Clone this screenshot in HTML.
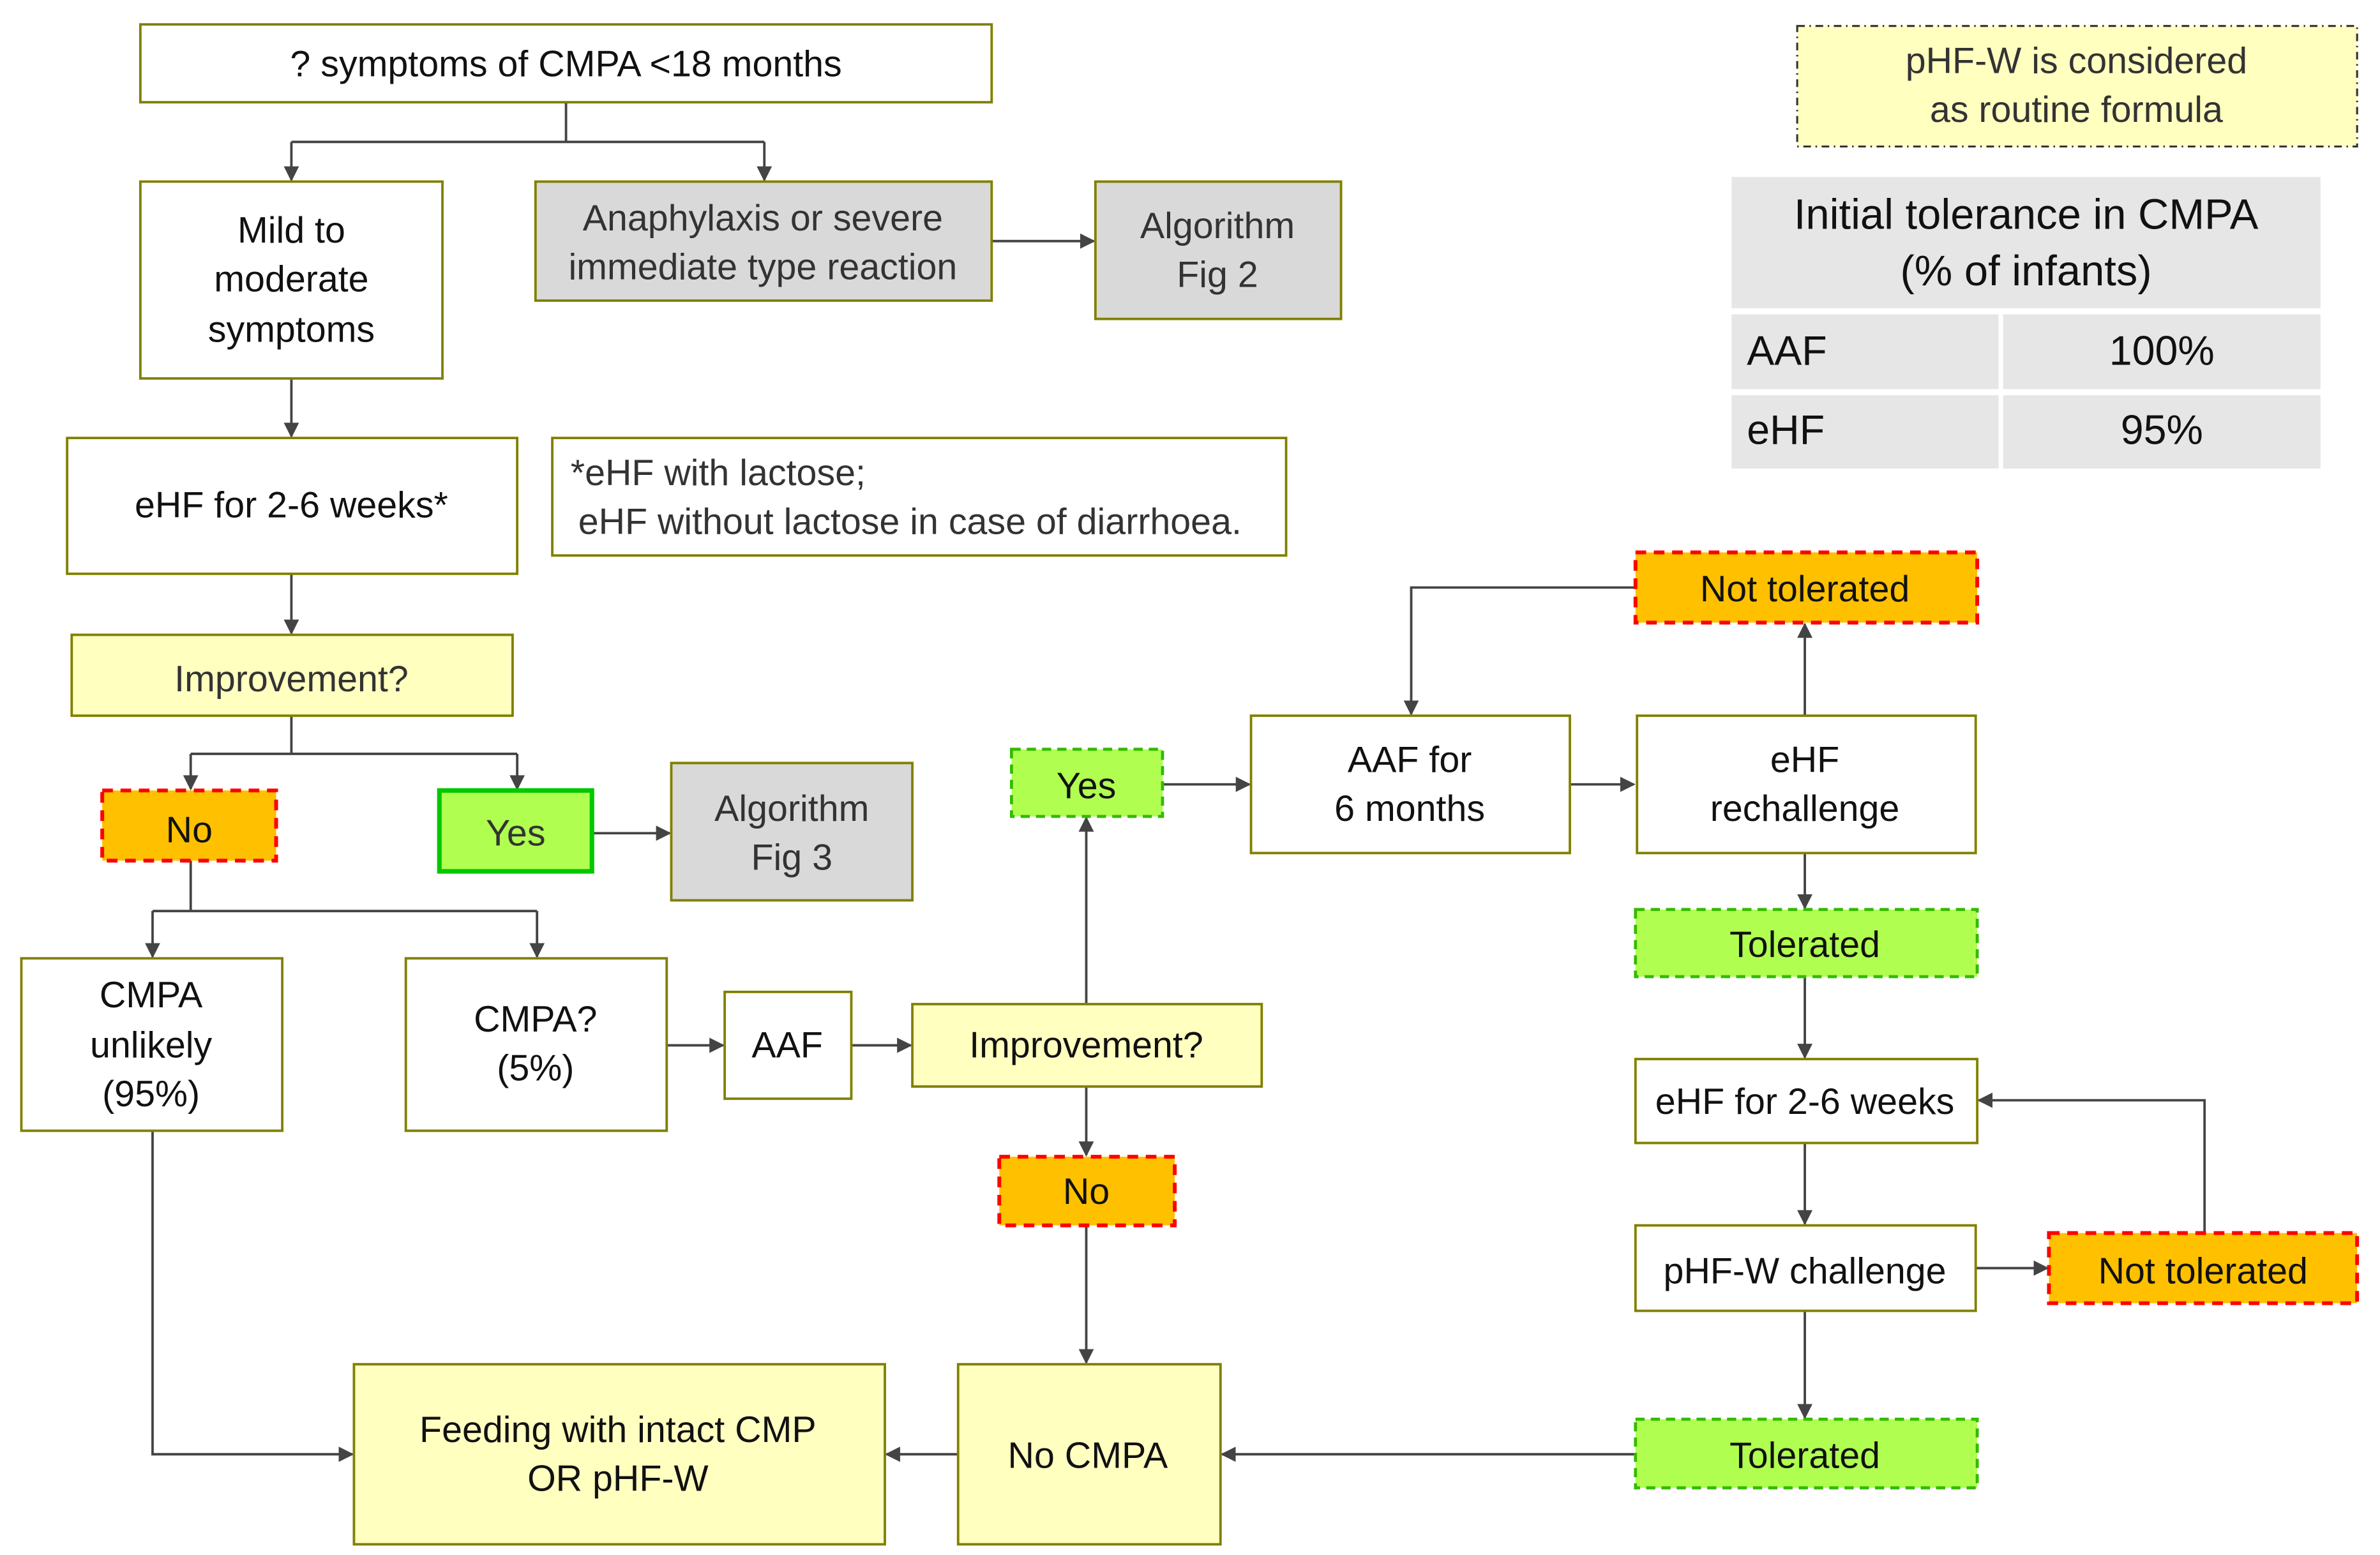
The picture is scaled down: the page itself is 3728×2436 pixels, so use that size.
<!DOCTYPE html>
<html><head><meta charset="utf-8"><style>html,body{margin:0;padding:0;background:#fff}svg{display:block}</style></head>
<body>
<svg xmlns="http://www.w3.org/2000/svg" width="3728" height="2436" viewBox="0 0 1560 1019" preserveAspectRatio="none" font-family="'Liberation Sans', sans-serif" font-size="24" fill="#111">
<defs>
<marker id="a" markerWidth="10" markerHeight="10" refX="9" refY="5" orient="auto" markerUnits="userSpaceOnUse"><path d="M0,0 L10,5 L0,10 Z" fill="#444"/></marker>
</defs>
<g stroke="#444" stroke-width="1.6" fill="none">
<path d="M371,67 V93 M191,93 H501"/>
<path d="M191,93 V118" marker-end="url(#a)"/>
<path d="M501,93 V118" marker-end="url(#a)"/>
<path d="M650,158 H717" marker-end="url(#a)"/>
<path d="M191,248 V286" marker-end="url(#a)"/>
<path d="M191,376 V415" marker-end="url(#a)"/>
<path d="M191,469 V494 M125,494 H339"/>
<path d="M125,494 V517" marker-end="url(#a)"/>
<path d="M339,494 V517" marker-end="url(#a)"/>
<path d="M388,546 H439" marker-end="url(#a)"/>
<path d="M125,564 V597 M100,597 H352"/>
<path d="M100,597 V627" marker-end="url(#a)"/>
<path d="M352,597 V627" marker-end="url(#a)"/>
<path d="M437,685 H474" marker-end="url(#a)"/>
<path d="M558,685 H597" marker-end="url(#a)"/>
<path d="M712,658 V536" marker-end="url(#a)"/>
<path d="M762,514 H819" marker-end="url(#a)"/>
<path d="M1029,514 H1071" marker-end="url(#a)"/>
<path d="M1183,469 V409" marker-end="url(#a)"/>
<path d="M1072,385 H925 V468" marker-end="url(#a)"/>
<path d="M1183,559 V595" marker-end="url(#a)"/>
<path d="M1183,640 V693" marker-end="url(#a)"/>
<path d="M1183,749 V802" marker-end="url(#a)"/>
<path d="M1295,831 H1342" marker-end="url(#a)"/>
<path d="M1445,808 V721 H1297" marker-end="url(#a)"/>
<path d="M1183,859 V929" marker-end="url(#a)"/>
<path d="M1072,953 H801" marker-end="url(#a)"/>
<path d="M712,712 V757" marker-end="url(#a)"/>
<path d="M712,803 V893" marker-end="url(#a)"/>
<path d="M628,953 H581" marker-end="url(#a)"/>
<path d="M100,741 V953 H231" marker-end="url(#a)"/>
</g>
<g stroke="#808000" stroke-width="1.6">
<rect x="92" y="16" width="558" height="51" fill="#fff"/>
<rect x="92" y="119" width="198" height="129" fill="#fff"/>
<rect x="351" y="119" width="299" height="78" fill="#d9d9d9"/>
<rect x="718" y="119" width="161" height="90" fill="#d9d9d9"/>
<rect x="44" y="287" width="295" height="89" fill="#fff"/>
<rect x="362" y="287" width="481" height="77" fill="#fff"/>
<rect x="47" y="416" width="289" height="53" fill="#ffffc0"/>
<rect x="440" y="500" width="158" height="90" fill="#d9d9d9"/>
<rect x="14" y="628" width="171" height="113" fill="#fff"/>
<rect x="266" y="628" width="171" height="113" fill="#fff"/>
<rect x="475" y="650" width="83" height="70" fill="#fff"/>
<rect x="598" y="658" width="229" height="54" fill="#ffffc0"/>
<rect x="820" y="469" width="209" height="90" fill="#fff"/>
<rect x="1073" y="469" width="222" height="90" fill="#fff"/>
<rect x="1072" y="694" width="224" height="55" fill="#fff"/>
<rect x="1072" y="803" width="223" height="56" fill="#fff"/>
<rect x="628" y="894" width="172" height="118" fill="#ffffc0"/>
<rect x="232" y="894" width="348" height="118" fill="#ffffc0"/>
</g>
<g stroke="#ff0000" stroke-width="2.5" stroke-dasharray="7,5" fill="#ffc000">
<rect x="67" y="518" width="114" height="46"/>
<rect x="655" y="758" width="115" height="45"/>
<rect x="1072" y="362" width="224" height="46"/>
<rect x="1343" y="808" width="202" height="46"/>
</g>
<rect x="288" y="518" width="100" height="53" fill="#b0ff50" stroke="#00c800" stroke-width="3"/>
<g stroke="#33bb00" stroke-width="2" stroke-dasharray="6,4" fill="#b0ff50">
<rect x="663" y="491" width="99" height="44"/>
<rect x="1072" y="596" width="224" height="44"/>
<rect x="1072" y="930" width="224" height="45"/>
</g>
<rect x="1178" y="17" width="367" height="79" fill="#ffffc0" stroke="#333" stroke-width="1.3" stroke-dasharray="5,3,1,3"/>
<g fill="#e6e6e6">
<rect x="1135" y="116" width="386" height="86"/>
<rect x="1135" y="206" width="175" height="49"/>
<rect x="1313" y="206" width="208" height="49"/>
<rect x="1135" y="259" width="175" height="48"/>
<rect x="1313" y="259" width="208" height="48"/>
</g>
<g text-anchor="middle">
<text x="371" y="50">? symptoms of CMPA &lt;18 months</text>
<text x="191" y="159">Mild to</text><text x="191" y="191">moderate</text><text x="191" y="224">symptoms</text>
<text x="500" y="151" fill="#333">Anaphylaxis or severe</text><text x="500" y="183" fill="#333">immediate type reaction</text>
<text x="798" y="156" fill="#333">Algorithm</text><text x="798" y="188" fill="#333">Fig 2</text>
<text x="191" y="339">eHF for 2-6 weeks*</text>
<text x="191" y="453" fill="#333">Improvement?</text>
<text x="124" y="552">No</text>
<text x="338" y="554" fill="#333">Yes</text>
<text x="519" y="538" fill="#333">Algorithm</text><text x="519" y="570" fill="#333">Fig 3</text>
<text x="99" y="660">CMPA</text><text x="99" y="693">unlikely</text><text x="99" y="725">(95%)</text>
<text x="351" y="676">CMPA?</text><text x="351" y="708">(5%)</text>
<text x="516" y="693">AAF</text>
<text x="712" y="693">Improvement?</text>
<text x="712" y="523">Yes</text>
<text x="924" y="506">AAF for</text><text x="924" y="538">6 months</text>
<text x="1183" y="506">eHF</text><text x="1183" y="538">rechallenge</text>
<text x="1183" y="394">Not tolerated</text>
<text x="1183" y="627">Tolerated</text>
<text x="1183" y="730">eHF for 2-6 weeks</text>
<text x="1183" y="841">pHF-W challenge</text>
<text x="1444" y="841">Not tolerated</text>
<text x="1183" y="962">Tolerated</text>
<text x="712" y="789">No</text>
<text x="713" y="962">No CMPA</text>
<text x="405" y="945">Feeding with intact CMP</text><text x="405" y="977">OR pHF-W</text>
<text x="1361" y="48" fill="#333">pHF-W is considered</text><text x="1361" y="80" fill="#333">as routine formula</text>
<text x="1328" y="150" font-size="28">Initial tolerance in CMPA</text><text x="1328" y="187" font-size="28">(% of infants)</text>
<text x="1417" y="239" font-size="27">100%</text>
<text x="1417" y="291" font-size="27">95%</text>
</g>
<text x="1145" y="239" font-size="27">AAF</text>
<text x="1145" y="291" font-size="27">eHF</text>
<text x="374" y="318" fill="#333">*eHF with lactose;</text>
<text x="379" y="350" fill="#333">eHF without lactose in case of diarrhoea.</text>
</svg>
</body></html>
